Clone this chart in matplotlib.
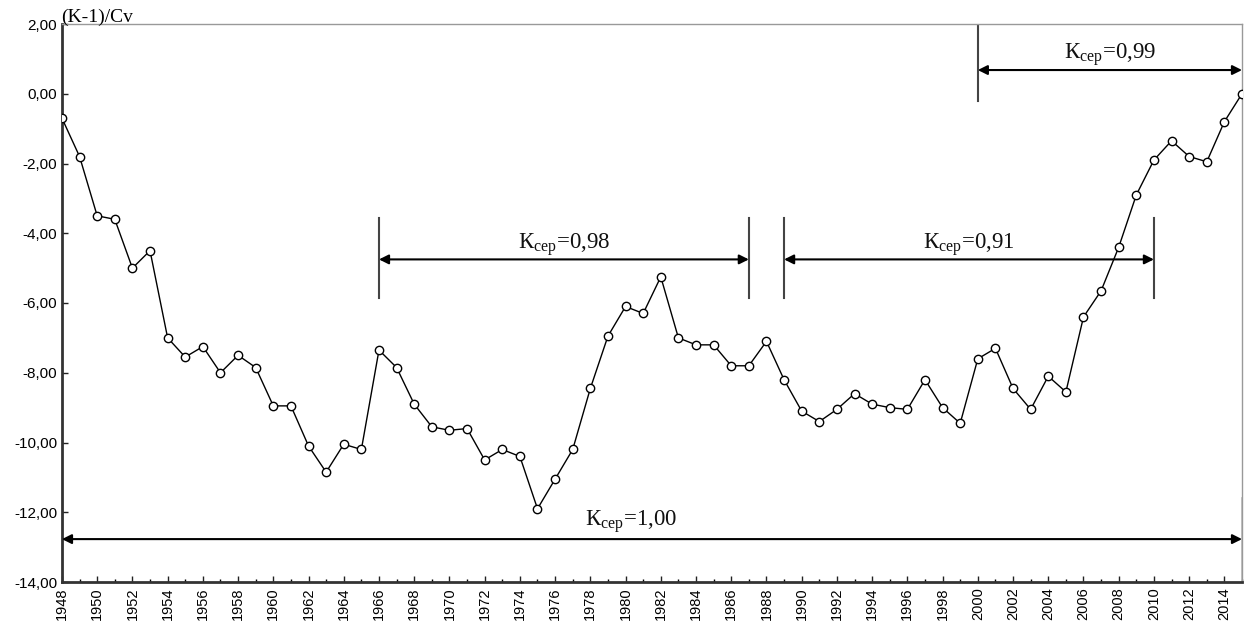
import numpy as np
import matplotlib.pyplot as plt
from matplotlib.ticker import MultipleLocator, FuncFormatter

plt.rcParams['mathtext.fontset'] = 'custom'
plt.rcParams['mathtext.rm'] = 'Liberation Serif'

years = np.arange(1948, 2016)
values = [-0.70, -1.80, -3.50, -3.60, -5.00, -4.50, -7.00, -7.55, -7.25, -8.00,
          -7.50, -7.85, -8.95, -8.95, -10.10, -10.85, -10.05, -10.20, -7.35, -7.85,
          -8.90, -9.55, -9.65, -9.60, -10.50, -10.20, -10.40, -11.90, -11.05, -10.20,
          -8.45, -6.95, -6.10, -6.30, -5.25, -7.00, -7.20, -7.20, -7.80, -7.80,
          -7.10, -8.20, -9.10, -9.40, -9.05, -8.60, -8.90, -9.00, -9.05, -8.20,
          -9.00, -9.45, -7.60, -7.30, -8.45, -9.05, -8.10, -8.55, -6.40, -5.65,
          -4.40, -2.90, -1.90, -1.35, -1.80, -1.95, -0.80, 0.00]

# periods: (start, end, K_avg)
periods = [(1966, 1987, '0,98'), (1989, 2010, '0,91'), (2000, 2015, '0,99'), (1948, 2015, '1,00')]

fig = plt.figure(figsize=(12.44, 6.25), dpi=100)
ax = fig.add_axes([0.0498, 0.0688, 0.9486, 0.8928])

ax.plot(years, values, color='black', lw=1, marker='o', ms=6,
        mfc='white', mec='black', mew=1, zorder=5)

ax.set_xlim(1948, 2015)
ax.set_ylim(-14, 2)
ax.xaxis.set_major_locator(MultipleLocator(2))
ax.xaxis.set_minor_locator(MultipleLocator(1))
ax.yaxis.set_major_locator(MultipleLocator(2))
ax.yaxis.set_major_formatter(FuncFormatter(lambda v, p: f'{v:.2f}'.replace('.', ',')))
ax.tick_params(axis='both', direction='in', length=4, width=1, colors='#222222',
               labelsize=11, labelcolor='black')
ax.tick_params(axis='x', which='minor', direction='in', length=2, width=1)
ax.tick_params(axis='x', labelrotation=90, pad=4, labelsize=10.5)
for lab in ax.get_xticklabels() + ax.get_yticklabels():
    lab.set_family('Liberation Sans')

for s in ['left', 'bottom']:
    ax.spines[s].set_linewidth(2)
    ax.spines[s].set_color('#333333')
for s in ['top', 'right']:
    ax.spines[s].set_linewidth(1)
    ax.spines[s].set_color('#999999')

ax.text(1947.95, 2.05, '(K-1)/Cv', family='Liberation Serif', fontsize=14,
        ha='left', va='baseline')

arrow_kw = dict(arrowstyle='<|-|>', color='black', lw=1.5, mutation_scale=14,
                shrinkA=0, shrinkB=0)
line_kw = dict(color='#444444', lw=1.5)

def label(x, y, k):
    ax.text(x, y, r'К$_{\mathrm{сер}}$=' + k, family='Liberation Serif',
            fontsize=16.5, ha='center', va='baseline', color='#111111')

# 0,98 and 0,91
for a, b, k in periods[:2]:
    ax.plot([a, a], [-3.55, -5.85], **line_kw)
    ax.plot([b, b], [-3.55, -5.85], **line_kw)
    ax.annotate('', xy=(b, -4.75), xytext=(a, -4.75), arrowprops=arrow_kw)
    label((a + b) / 2, -4.45, k)

# 0,99
a, b, k = periods[2]
ax.plot([a, a], [2, -0.2], **line_kw)
ax.annotate('', xy=(b, 0.68), xytext=(a, 0.68), arrowprops=arrow_kw)
label((a + b) / 2, 0.98, k)

# 1,00
a, b, k = periods[3]
ax.plot([a, a], [-11.6, -14], **line_kw)
ax.plot([b - 0.02, b - 0.02], [-11.6, -14], color='#bbbbbb', lw=1.2)
ax.annotate('', xy=(b, -12.77), xytext=(a, -12.77), arrowprops=arrow_kw)
label(1980.3, -12.4, k)

fig.savefig('out.png', dpi=100)
